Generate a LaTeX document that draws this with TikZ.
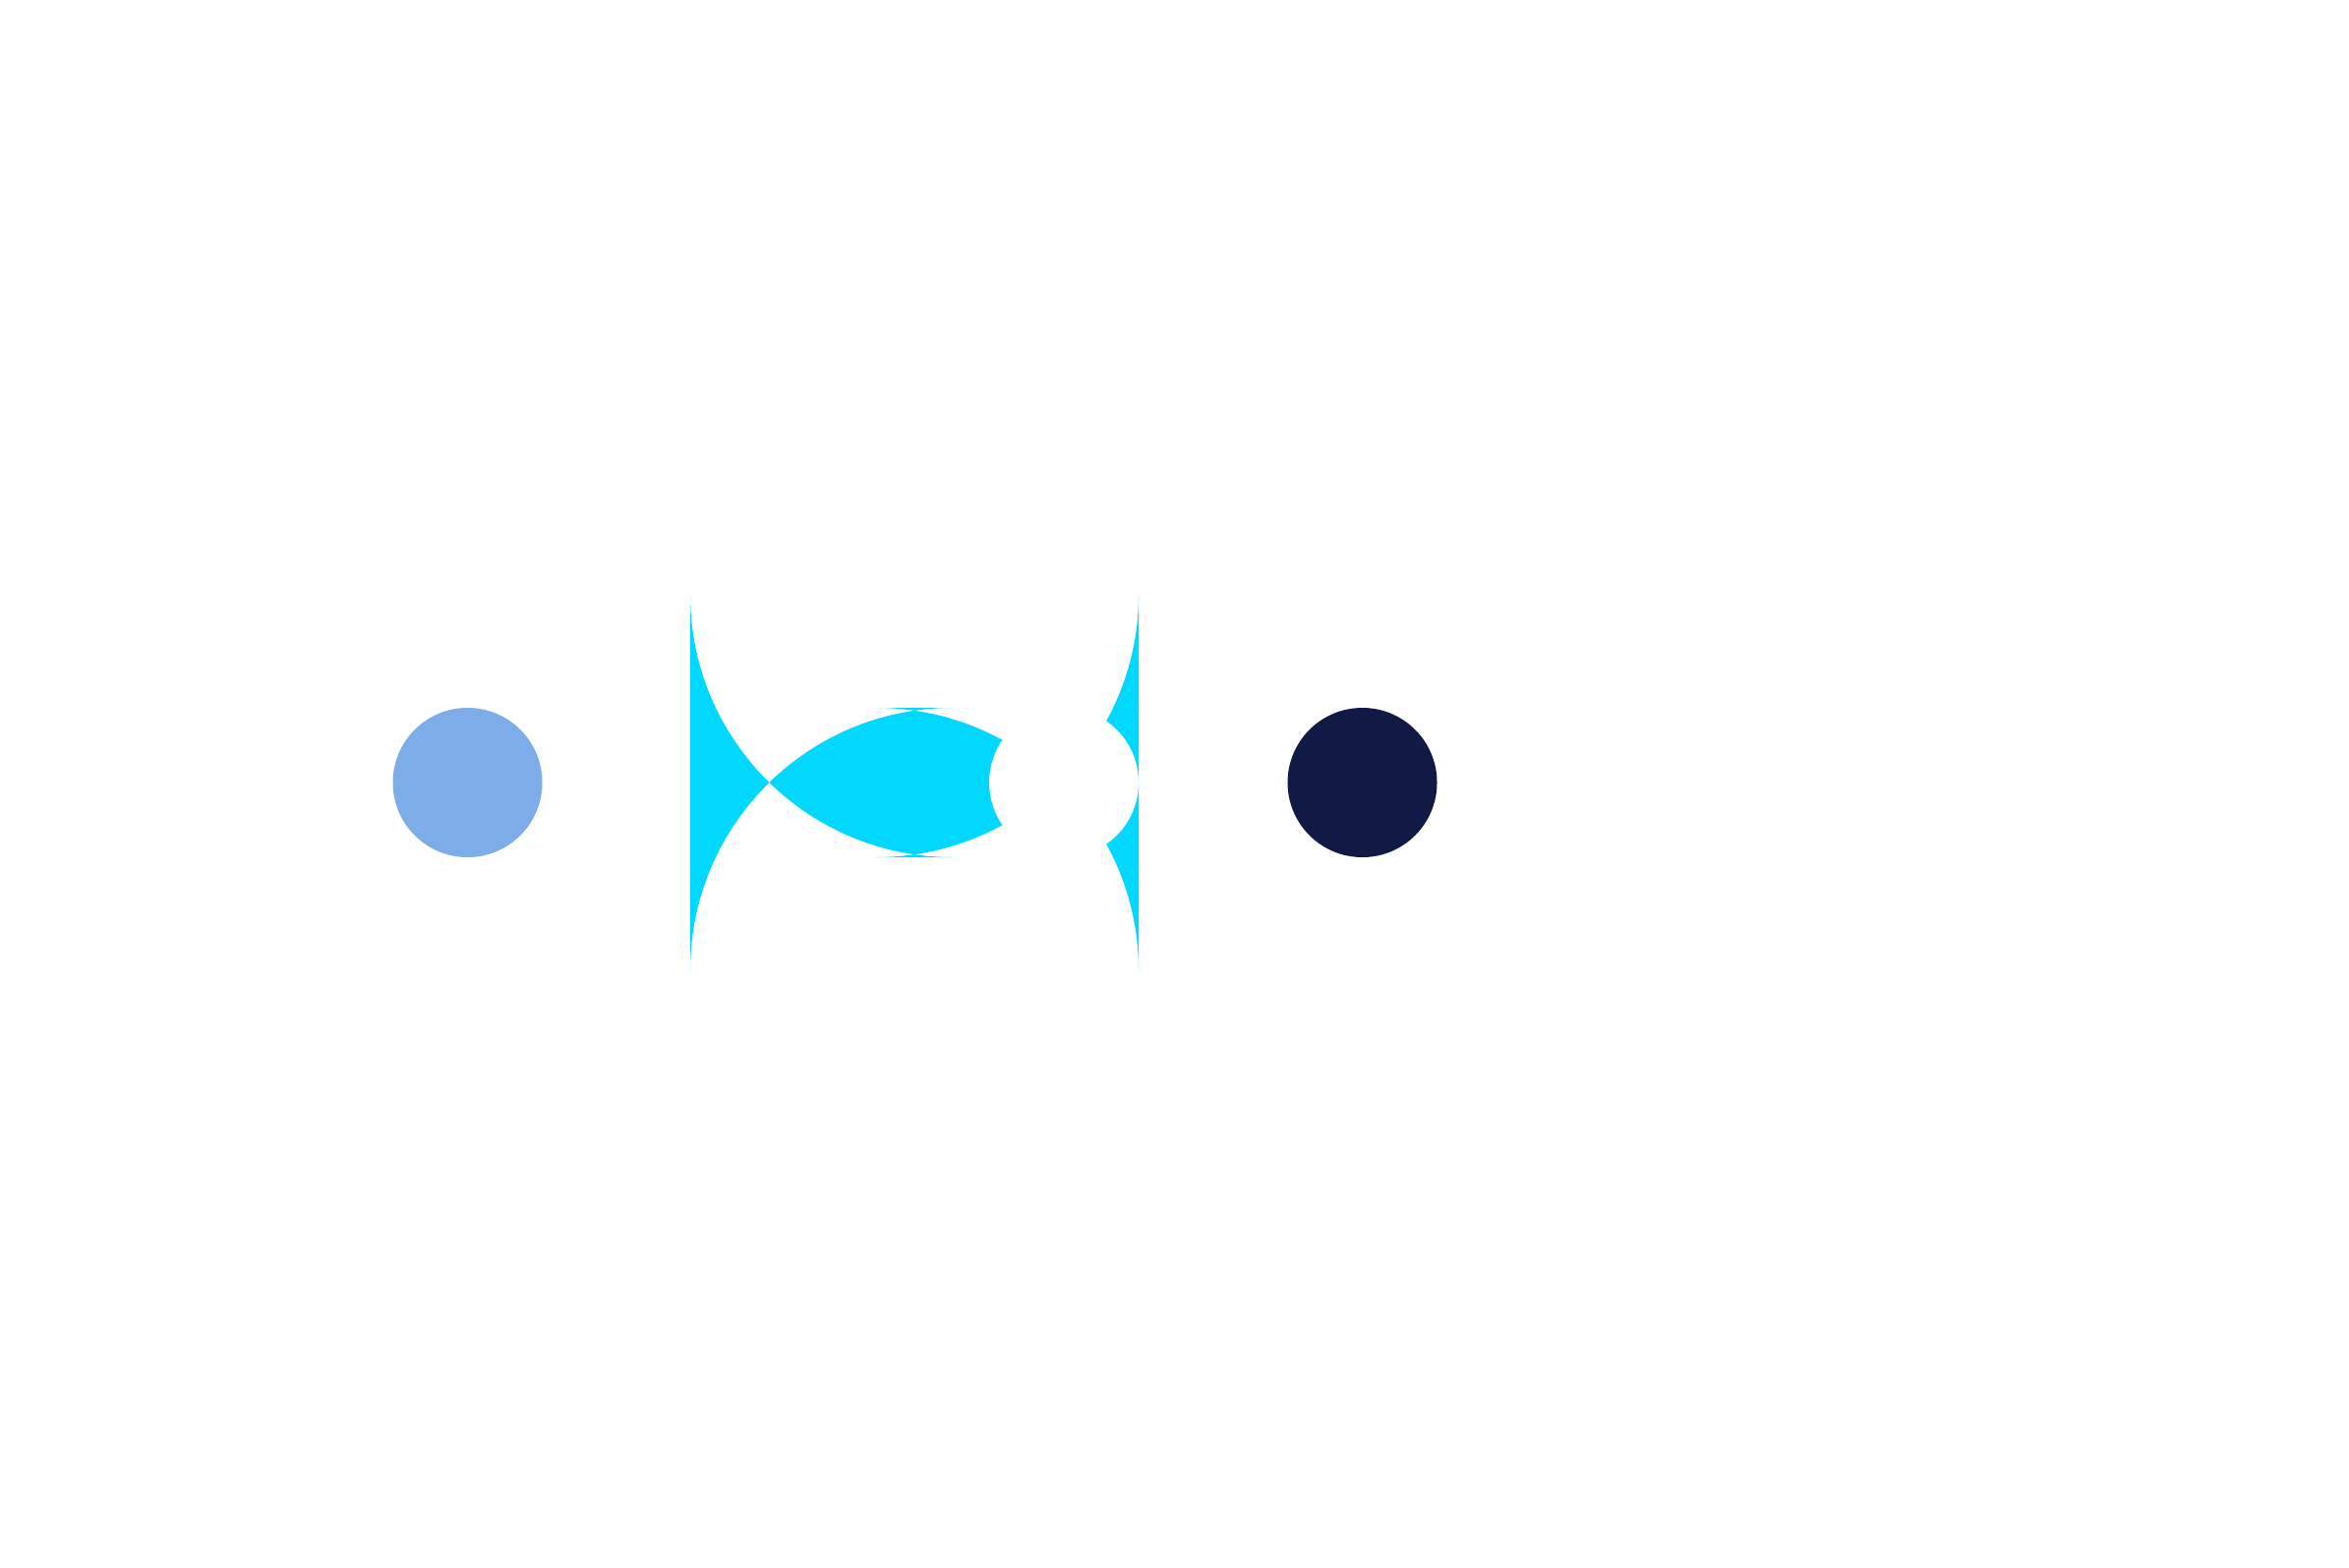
\documentclass[tikz,border=0pt]{standalone}
\definecolor{lightblue}{HTML}{7DADE8}
\definecolor{cyanc}{HTML}{00D8FF}
\definecolor{navy}{HTML}{111A44}
\begin{document}
\begin{tikzpicture}[x=0.01cm,y=-0.01cm]
\useasboundingbox (0,0) rectangle (2389,1594);
\fill[white] (0,0) rectangle (2389,1594);
\fill[lightblue] (475.5,796) circle[radius=76];
\fill[cyanc, rounded corners=75.9] (702,720) rectangle (1158,872);
\fill[white] (1082,796) circle[radius=76];
\fill[navy] (1385.5,796) circle[radius=76];
\end{tikzpicture}
\end{document}
